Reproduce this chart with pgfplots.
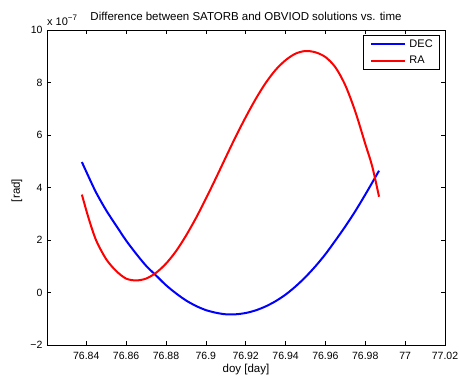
\documentclass[border=0pt]{standalone}
\usepackage{fontspec}
\setmainfont{Liberation Sans}
\usepackage{pgfplots}
\pgfplotsset{compat=1.18}
\begin{document}
\begin{tikzpicture}
\useasboundingbox (-47pt,-31pt) rectangle (413pt,345pt);
\begin{axis}[name=ax, at={(0,0)}, anchor=south west,
  scale only axis, width=398pt, height=315pt,
  % x is plotted as (doy - 76.8) to keep full precision
  xmin=0.0203, xmax=0.22, ymin=-2, ymax=10,
  xtick={0.04,0.06,0.08,0.10,0.12,0.14,0.16,0.18,0.20,0.22},
  xticklabels={76.84,76.86,76.88,76.9,76.92,76.94,76.96,76.98,77,77.02},
  ytick={-2,0,2,4,6,8,10},
  yticklabels={−2,0,2,4,6,8,10},
  tick align=inside, major tick length=4pt,
  tick style={black, line width=0.5pt},
  axis line style={line width=0.6pt},
  ticklabel style={font=\fontsize{10.5}{12}\selectfont},
  xticklabel style={anchor=base, yshift=-14pt},
  yticklabel style={anchor=east, xshift=-1pt},
  legend style={at={(1,1)}, anchor=north east, xshift=-5pt, yshift=-5pt,
    draw=black, line width=0.6pt, font=\fontsize{11}{12}\selectfont,
    inner xsep=7pt, inner ysep=4.5pt, row sep=7pt, column sep=3pt,
    nodes={inner sep=0pt}},
  legend cell align=left,
  legend image code/.code={\draw[#1, line width=2pt] (0pt,0pt) -- (34pt,0pt);},
]
\addplot[blue, line width=2pt, smooth] table[x expr=\thisrowno{0}-76.8, y index=1] {
doy dec
76.8378 4.97
76.8413 4.39
76.8450 3.80
76.8500 3.13
76.8550 2.55
76.8600 1.98
76.8650 1.48
76.8700 1.02
76.8750 0.65
76.8800 0.28
76.8850 -0.03
76.8900 -0.30
76.8950 -0.51
76.9000 -0.67
76.9050 -0.77
76.9100 -0.83
76.9150 -0.83
76.9200 -0.78
76.9250 -0.68
76.9300 -0.53
76.9350 -0.33
76.9400 -0.08
76.9450 0.23
76.9500 0.59
76.9550 1.00
76.9600 1.46
76.9650 1.98
76.9700 2.52
76.9750 3.10
76.9800 3.73
76.9835 4.19
76.9869 4.64
};
\addlegendentry{DEC}
\addplot[red, line width=2pt, smooth] table[x expr=\thisrowno{0}-76.8, y index=1] {
doy ra
76.8378 3.73
76.8413 2.80
76.8450 1.98
76.8500 1.27
76.8550 0.82
76.8600 0.53
76.8650 0.46
76.8700 0.53
76.8750 0.75
76.8800 1.10
76.8850 1.57
76.8900 2.16
76.8950 2.83
76.9000 3.57
76.9050 4.35
76.9100 5.15
76.9150 5.94
76.9200 6.68
76.9250 7.37
76.9300 7.98
76.9350 8.48
76.9400 8.85
76.9450 9.10
76.9500 9.20
76.9550 9.15
76.9600 8.97
76.9650 8.58
76.9700 7.89
76.9750 6.89
76.9800 5.66
76.9835 4.80
76.9869 3.65
};
\addlegendentry{RA}
\end{axis}
\node[anchor=base west, inner sep=0pt, font=\fontsize{11}{12}\selectfont] at ([yshift=5pt]ax.north west) {x 10\raisebox{5pt}{\fontsize{8}{9}\selectfont −7}};
\node[anchor=base, inner sep=0pt, font=\fontsize{11.5}{13}\selectfont] at ([yshift=10pt]ax.north) {Difference between SATORB and OBVIOD solutions vs. time};
\node[anchor=base, inner sep=0pt, font=\fontsize{11.5}{13}\selectfont] at ([yshift=-27pt]ax.south) {doy [day]};
\node[rotate=90, anchor=center, inner sep=0pt, font=\fontsize{11.5}{13}\selectfont] at ([xshift=-30pt,yshift=-3pt]ax.west) {[rad]};
\end{tikzpicture}
\end{document}
